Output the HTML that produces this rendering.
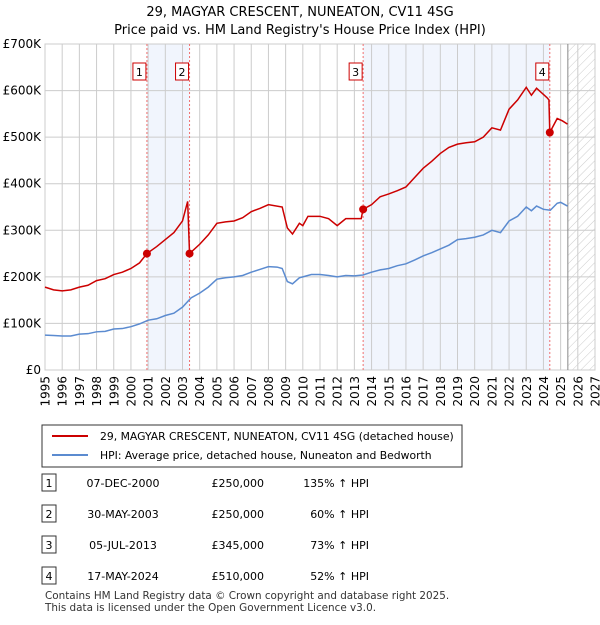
<!DOCTYPE html>
<html><head><meta charset="utf-8"><style>
body{margin:0;background:#fff;font-family:"Liberation Sans","DejaVu Sans",sans-serif;}
svg text{font-family:"DejaVu Sans","Liberation Sans",sans-serif;}
</style></head><body>
<svg id="c" width="600" height="620" xmlns="http://www.w3.org/2000/svg">
<defs><pattern id="hatch" width="6" height="6" patternUnits="userSpaceOnUse" patternTransform="rotate(45)"><line x1="0" y1="0" x2="0" y2="6" stroke="#ccc" stroke-width="1"/></pattern></defs>
<text x="300" y="16" text-anchor="middle" font-size="13">29, MAGYAR CRESCENT, NUNEATON, CV11 4SG</text>
<text x="300" y="34" text-anchor="middle" font-size="13">Price paid vs. HM Land Registry's House Price Index (HPI)</text>
<g id="plot"></g>
<g>
<rect x="42" y="425" width="420" height="42" fill="#fff" stroke="#333"/>
<line x1="52" y1="436" x2="88" y2="436" stroke="#cc0000" stroke-width="2"/>
<text x="100" y="440" font-size="10.8">29, MAGYAR CRESCENT, NUNEATON, CV11 4SG (detached house)</text>
<line x1="52" y1="455" x2="88" y2="455" stroke="#5b8bd0" stroke-width="2"/>
<text x="100" y="459" font-size="10.8">HPI: Average price, detached house, Nuneaton and Bedworth</text>
</g>
<g id="table"></g>
<text x="45" y="599" font-size="10.4" fill="#333">Contains HM Land Registry data © Crown copyright and database right 2025.</text>
<text x="45" y="611" font-size="10.4" fill="#333">This data is licensed under the Open Government Licence v3.0.</text>
</svg>
<script>
const hpiT=[1995,1995.5,1996,1996.5,1997,1997.5,1998,1998.5,1999,1999.5,2000,2000.5,2001,2001.5,2002,2002.5,2003,2003.5,2004,2004.5,2005,2005.5,2006,2006.5,2007,2007.5,2008,2008.5,2008.8,2009.1,2009.4,2009.8,2010,2010.5,2011,2011.5,2012,2012.5,2013,2013.5,2014,2014.5,2015,2015.5,2016,2016.5,2017,2017.5,2018,2018.5,2019,2019.5,2020,2020.5,2021,2021.5,2022,2022.5,2023,2023.3,2023.6,2024,2024.4,2024.8,2025,2025.4];
const hpiV=[75,74,73,73,77,78,82,83,88,89,93,99,107,110,117,122,135,155,165,178,195,198,200,203,210,216,222,221,218,190,185,198,200,205,205,203,200,203,202,204,210,215,218,224,228,236,245,252,260,268,280,282,285,290,300,295,320,330,350,342,352,345,343,358,360,352];
const redT=[1995,1995.5,1996,1996.5,1997,1997.5,1998,1998.5,1999,1999.5,2000,2000.5,2000.93,2001.5,2002,2002.5,2003,2003.3,2003.41,2004,2004.5,2005,2005.5,2006,2006.5,2007,2007.5,2008,2008.8,2009.1,2009.4,2009.8,2010,2010.3,2011,2011.5,2012,2012.5,2013.4,2013.5,2014,2014.5,2015,2015.5,2016,2016.5,2017,2017.5,2018,2018.5,2019,2019.5,2020,2020.5,2021,2021.5,2022,2022.5,2023,2023.3,2023.6,2024.2,2024.32,2024.37,2024.8,2025.1,2025.4];
const redV=[178,172,170,172,178,182,192,196,205,210,218,230,250,265,280,295,320,362,250,270,290,315,318,320,327,340,347,355,350,305,292,315,310,330,330,325,310,325,325,345,355,372,378,385,393,413,433,448,465,478,485,488,490,500,520,515,560,580,607,590,605,585,580,510,540,535,528];
const sales=[{n:"1",t:2000.93,v:250,d:"07-DEC-2000",p:"£250,000",h:"135% ↑ HPI"},{n:"2",t:2003.41,v:250,d:"30-MAY-2003",p:"£250,000",h:"60% ↑ HPI"},{n:"3",t:2013.51,v:345,d:"05-JUL-2013",p:"£345,000",h:"73% ↑ HPI"},{n:"4",t:2024.37,v:510,d:"17-MAY-2024",p:"£510,000",h:"52% ↑ HPI"}];
const yTicks=[0,100,200,300,400,500,600,700];
const yLabels=["£0","£100K","£200K","£300K","£400K","£500K","£600K","£700K"];
const X0=45,X1=595,Y0=370,Y1=44;
const x=t=>X0+(t-1995)*(X1-X0)/32, y=v=>Y0-v*(Y0-Y1)/700;
const NS="http://www.w3.org/2000/svg";
const g=document.getElementById('plot');
function mk(tag,at,parent){const e=document.createElementNS(NS,tag);for(const k in at)e.setAttribute(k,at[k]);(parent||g).appendChild(e);return e;}
let e;
e=mk('rect',{x:x(sales[0].t),y:Y1,width:x(sales[1].t)-x(sales[0].t),height:Y0-Y1,fill:'#eef3fc',opacity:0.8});

e=mk('rect',{x:x(sales[2].t),y:Y1,width:x(sales[3].t)-x(sales[2].t),height:Y0-Y1,fill:'#eef3fc',opacity:0.8});

const hs=2025.42;
e=mk('rect',{x:x(hs),y:Y1,width:X1-x(hs),height:Y0-Y1,fill:'url(#hatch)'});

for(let yr=1995;yr<=2027;yr++){e=mk('line',{x1:x(yr),x2:x(yr),y1:Y1,y2:Y0,stroke:'#ccc'});

e=mk('text',{x:0,y:0,transform:`translate(${x(yr)+4.5},${Y0+6}) rotate(-90)`,'text-anchor':'end','font-size':12});e.textContent=yr;
}
yTicks.forEach((v,i)=>{e=mk('line',{x1:X0,x2:X1,y1:y(v),y2:y(v),stroke:'#ccc'});

e=mk('text',{x:X0-4,y:y(v)+4,'text-anchor':'end','font-size':12});e.textContent=yLabels[i];
});
e=mk('rect',{x:X0,y:Y1,width:X1-X0,height:Y0-Y1,fill:'none',stroke:'#ccc'});

e=mk('line',{x1:x(hs),x2:x(hs),y1:Y1,y2:Y0,stroke:'#888'});

sales.forEach(s=>{e=mk('line',{x1:x(s.t),x2:x(s.t),y1:Y1,y2:Y0,stroke:'#f07070','stroke-dasharray':'2,2'});
});
e=mk('polyline',{points:hpiT.map((t,i)=>x(t)+','+y(hpiV[i])).join(' '),fill:'none',stroke:'#5b8bd0','stroke-width':1.5});

e=mk('polyline',{points:redT.map((t,i)=>x(t)+','+y(redV[i])).join(' '),fill:'none',stroke:'#cc0000','stroke-width':1.5});

sales.forEach(s=>{e=mk('circle',{cx:x(s.t),cy:y(s.v),r:4,fill:'#cc0000'});

e=mk('rect',{x:x(s.t)-14,y:63,width:13,height:17,fill:'#fff',stroke:'#cc0000'});

e=mk('text',{x:x(s.t)-7.5,y:76,'text-anchor':'middle','font-size':11});e.textContent=s.n;
});
const tb=document.getElementById('table');
sales.forEach((s,i)=>{const yy=483+i*31;
e=mk('rect',{x:42,y:yy-9,width:14,height:17,fill:'#fff',stroke:'#333'},tb);

e=mk('text',{x:49,y:yy+4,'text-anchor':'middle','font-size':11},tb);e.textContent=s.n;

e=mk('text',{x:123,y:yy+4,'text-anchor':'middle','font-size':11},tb);e.textContent=s.d;

e=mk('text',{x:264,y:yy+4,'text-anchor':'end','font-size':11},tb);e.textContent=s.p;

e=mk('text',{x:369,y:yy+4,'text-anchor':'end','font-size':11},tb);e.textContent=s.h;
});
</script>
</body></html>
